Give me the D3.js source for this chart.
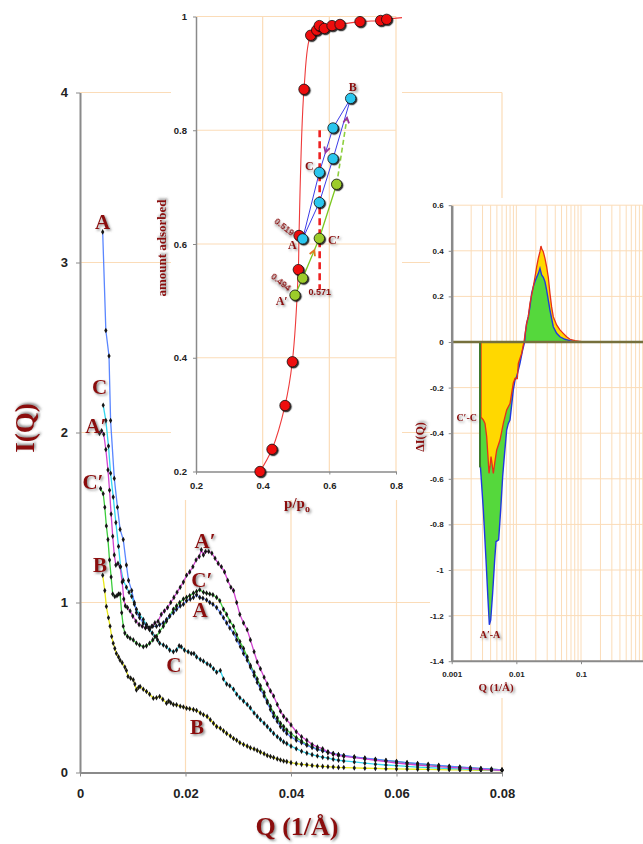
<!DOCTYPE html>
<html><head><meta charset="utf-8">
<script src="https://cdn.jsdelivr.net/npm/d3@7"></script>
<style>body{margin:0;background:#fff}svg{display:block}</style>
</head><body>
<svg id="c" width="643" height="844"></svg>
<script>
// ---------------- MAIN CHART DATA: [Q, I(Q)] ----------------
const curveA = [[0.0043,3.18],[0.0049,2.60],[0.0055,2.45],[0.0058,2.07],[0.0065,1.73],[0.0071,1.56],[0.0076,1.43],[0.0082,1.37],[0.0088,1.22],[0.0092,1.13],[0.0098,1.07],[0.0103,1.00],[0.0107,0.94],[0.0113,0.91],[0.0120,0.88],[0.0126,0.86],[0.0132,0.85],[0.0138,0.86],[0.0145,0.86],[0.0151,0.87],[0.0158,0.88],[0.0164,0.90],[0.0170,0.92],[0.0177,0.94],[0.0183,0.96],[0.0190,0.98],[0.0196,0.99],[0.0202,1.01],[0.0209,1.02],[0.0215,1.03],[0.0221,1.045],[0.0227,1.03],[0.0233,1.025],[0.0240,1.015],[0.0246,1.00],[0.0252,0.99],[0.0259,0.97],[0.0266,0.94],[0.0272,0.91],[0.0278,0.88],[0.0284,0.85],[0.0291,0.82],[0.0297,0.78],[0.0304,0.74],[0.0310,0.70],[0.0317,0.66],[0.0323,0.62],[0.0330,0.57],[0.0336,0.53],[0.0342,0.49],[0.0349,0.45],[0.0355,0.41],[0.0361,0.37],[0.0367,0.33],[0.0374,0.30],[0.0380,0.27],[0.0386,0.25],[0.0392,0.23],[0.0400,0.21],[0.0410,0.19],[0.0420,0.175],[0.0430,0.16],[0.0440,0.148],[0.0450,0.135],[0.0460,0.128],[0.0470,0.12],[0.0480,0.112],[0.0490,0.105],[0.050,0.10],[0.052,0.092],[0.054,0.085],[0.056,0.078],[0.058,0.071],[0.060,0.065],[0.062,0.058],[0.064,0.053],[0.066,0.048],[0.068,0.042],[0.070,0.037],[0.072,0.032],[0.074,0.028],[0.076,0.024],[0.078,0.020],[0.080,0.016]];
const curveC = [[0.0044,2.16],[0.0049,2.07],[0.0054,1.92],[0.0058,1.76],[0.0063,1.62],[0.0068,1.47],[0.0073,1.33],[0.0077,1.21],[0.0082,1.13],[0.0088,1.09],[0.0093,1.06],[0.0098,1.035],[0.0103,0.99],[0.0107,0.96],[0.0113,0.93],[0.0120,0.90],[0.0126,0.87],[0.0132,0.84],[0.0137,0.82],[0.0142,0.80],[0.0147,0.78],[0.0151,0.76],[0.0158,0.75],[0.0164,0.74],[0.0170,0.72],[0.0177,0.71],[0.0183,0.72],[0.0188,0.745],[0.0192,0.74],[0.0198,0.72],[0.0205,0.71],[0.0211,0.70],[0.0216,0.70],[0.0221,0.68],[0.0228,0.665],[0.0234,0.655],[0.0241,0.64],[0.0247,0.63],[0.0253,0.61],[0.0259,0.59],[0.0266,0.60],[0.0272,0.55],[0.0278,0.52],[0.0284,0.51],[0.0291,0.49],[0.0297,0.46],[0.0303,0.44],[0.0310,0.42],[0.0317,0.40],[0.0323,0.38],[0.0330,0.35],[0.0336,0.33],[0.0342,0.31],[0.0349,0.29],[0.0355,0.27],[0.0361,0.25],[0.0367,0.23],[0.0374,0.21],[0.0380,0.195],[0.0386,0.18],[0.0392,0.17],[0.0400,0.155],[0.0410,0.14],[0.0420,0.125],[0.0430,0.114],[0.0440,0.105],[0.0450,0.097],[0.0460,0.09],[0.0470,0.085],[0.0480,0.078],[0.0490,0.072],[0.050,0.068],[0.052,0.062],[0.054,0.055],[0.056,0.049],[0.058,0.044],[0.060,0.040],[0.062,0.036],[0.064,0.032],[0.066,0.029],[0.068,0.026],[0.070,0.023],[0.072,0.021],[0.074,0.019],[0.076,0.017],[0.078,0.015],[0.080,0.013]];
const curveAp = [[0.0037,1.995],[0.0041,2.01],[0.0045,1.99],[0.0049,1.90],[0.0053,1.78],[0.0056,1.66],[0.0059,1.52],[0.0062,1.39],[0.0065,1.28],[0.0068,1.22],[0.0072,1.23],[0.0076,1.21],[0.0080,1.12],[0.0083,1.02],[0.0086,0.98],[0.0090,0.97],[0.0095,0.95],[0.0100,0.92],[0.0106,0.89],[0.0112,0.87],[0.0118,0.86],[0.0124,0.85],[0.0130,0.85],[0.0136,0.86],[0.0142,0.88],[0.0148,0.89],[0.0154,0.93],[0.0160,0.95],[0.0166,0.97],[0.0172,1.00],[0.0178,1.03],[0.0184,1.06],[0.0190,1.09],[0.0196,1.12],[0.0202,1.16],[0.0208,1.18],[0.0214,1.21],[0.0220,1.25],[0.0226,1.27],[0.0230,1.31],[0.0234,1.28],[0.0238,1.30],[0.0244,1.30],[0.0250,1.29],[0.0256,1.26],[0.0262,1.23],[0.0268,1.21],[0.0274,1.18],[0.0280,1.13],[0.0286,1.09],[0.0291,1.07],[0.0297,1.00],[0.0303,0.93],[0.0310,0.88],[0.0317,0.84],[0.0323,0.78],[0.0330,0.71],[0.0336,0.65],[0.0342,0.61],[0.0349,0.56],[0.0355,0.52],[0.0361,0.48],[0.0367,0.45],[0.0374,0.40],[0.0380,0.36],[0.0386,0.33],[0.0392,0.31],[0.0400,0.28],[0.0410,0.24],[0.0420,0.21],[0.0430,0.19],[0.0440,0.165],[0.0450,0.15],[0.0460,0.14],[0.0470,0.12],[0.0480,0.108],[0.0490,0.10],[0.050,0.095],[0.052,0.088],[0.054,0.08],[0.056,0.072],[0.058,0.064],[0.060,0.056],[0.062,0.050],[0.064,0.044],[0.066,0.039],[0.068,0.034],[0.070,0.030],[0.072,0.027],[0.074,0.023],[0.076,0.019],[0.078,0.016],[0.080,0.013]];
const curveCp = [[0.0039,1.67],[0.0044,1.64],[0.0047,1.56],[0.0050,1.45],[0.0053,1.37],[0.0056,1.25],[0.0059,1.15],[0.0062,1.05],[0.0066,1.035],[0.0070,1.04],[0.0073,1.05],[0.0076,1.05],[0.0079,0.94],[0.0082,0.86],[0.0085,0.82],[0.0090,0.80],[0.0095,0.79],[0.0101,0.78],[0.0107,0.76],[0.0113,0.75],[0.0120,0.74],[0.0126,0.745],[0.0132,0.76],[0.0138,0.78],[0.0145,0.80],[0.0151,0.83],[0.0158,0.86],[0.0164,0.89],[0.0170,0.92],[0.0177,0.96],[0.0183,0.98],[0.0189,1.00],[0.0196,1.02],[0.0202,1.03],[0.0208,1.04],[0.0215,1.055],[0.0221,1.065],[0.0227,1.075],[0.0234,1.06],[0.0240,1.055],[0.0246,1.05],[0.0252,1.045],[0.0259,1.03],[0.0265,1.01],[0.0272,0.96],[0.0278,0.93],[0.0284,0.89],[0.0291,0.86],[0.0297,0.81],[0.0303,0.77],[0.0310,0.73],[0.0317,0.68],[0.0323,0.63],[0.0330,0.59],[0.0336,0.55],[0.0342,0.51],[0.0349,0.47],[0.0355,0.42],[0.0361,0.39],[0.0367,0.35],[0.0374,0.32],[0.0380,0.29],[0.0386,0.27],[0.0392,0.25],[0.0400,0.23],[0.0410,0.205],[0.0420,0.185],[0.0430,0.165],[0.0440,0.15],[0.0450,0.138],[0.0460,0.128],[0.0470,0.118],[0.0480,0.11],[0.0490,0.104],[0.050,0.098],[0.052,0.09],[0.054,0.083],[0.056,0.076],[0.058,0.07],[0.060,0.064],[0.062,0.057],[0.064,0.051],[0.066,0.046],[0.068,0.040],[0.070,0.035],[0.072,0.031],[0.074,0.027],[0.076,0.023],[0.078,0.019],[0.080,0.015]];
const curveB = [[0.0043,1.16],[0.0047,1.07],[0.0050,0.976],[0.0054,0.91],[0.0057,0.86],[0.0060,0.80],[0.0063,0.76],[0.0066,0.73],[0.0069,0.70],[0.0073,0.68],[0.0076,0.66],[0.0080,0.645],[0.0085,0.62],[0.0088,0.60],[0.0091,0.565],[0.0096,0.555],[0.0101,0.545],[0.0104,0.52],[0.0107,0.486],[0.0111,0.50],[0.0114,0.506],[0.0120,0.49],[0.0126,0.476],[0.0132,0.46],[0.0139,0.437],[0.0145,0.44],[0.0151,0.447],[0.0157,0.43],[0.0164,0.408],[0.0168,0.42],[0.0172,0.41],[0.0177,0.40],[0.0183,0.398],[0.0190,0.39],[0.0196,0.385],[0.0202,0.378],[0.0208,0.375],[0.0215,0.37],[0.0221,0.365],[0.0228,0.35],[0.0234,0.34],[0.0241,0.33],[0.0247,0.31],[0.0253,0.29],[0.0259,0.27],[0.0266,0.26],[0.0272,0.245],[0.0278,0.23],[0.0285,0.215],[0.0291,0.20],[0.0297,0.19],[0.0303,0.175],[0.0310,0.165],[0.0317,0.155],[0.0323,0.145],[0.0330,0.138],[0.0336,0.13],[0.0342,0.12],[0.0349,0.11],[0.0355,0.10],[0.0361,0.094],[0.0367,0.088],[0.0374,0.08],[0.0380,0.074],[0.0386,0.068],[0.0392,0.064],[0.0400,0.058],[0.0410,0.052],[0.0420,0.048],[0.0430,0.045],[0.0440,0.041],[0.0450,0.038],[0.0460,0.036],[0.0470,0.034],[0.0480,0.032],[0.0490,0.030],[0.050,0.029],[0.052,0.027],[0.054,0.025],[0.056,0.024],[0.058,0.022],[0.060,0.021],[0.062,0.020],[0.064,0.019],[0.066,0.018],[0.068,0.017],[0.070,0.016],[0.072,0.015],[0.074,0.014],[0.076,0.013],[0.078,0.012],[0.080,0.011]];
const qTicks = [0, 0.02, 0.04, 0.06, 0.08];
const iTicks = [0, 1, 2, 3, 4];
const mainLabels = [
  {t:"A", q:0.00427, v:3.24}, {t:"C", q:0.0037, v:2.27}, {t:"A\u2032", q:0.0030, v:2.04},
  {t:"C\u2032", q:0.00246, v:1.71}, {t:"B", q:0.0038, v:1.22},
  {t:"A\u2032", q:0.0237, v:1.36}, {t:"C\u2032", q:0.0231, v:1.13}, {t:"A", q:0.02275, v:0.956},
  {t:"C", q:0.0178, v:0.632}, {t:"B", q:0.0222, v:0.268}
];

// ---------------- INSET (ISOTHERM) DATA: [p/p0, amount] ----------------
const isoRed = [[0.392,0.2],[0.428,0.239],[0.467,0.316],[0.489,0.393],[0.507,0.555],[0.509,0.615],[0.524,0.872],[0.544,0.967],[0.562,0.976],[0.570,0.984],[0.585,0.979],[0.608,0.984],[0.632,0.986],[0.692,0.991],[0.754,0.993],[0.772,0.995]];
const isoRedEnd = [0.818, 0.998];
const isoCyanPath = [[0.520,0.609],[0.570,0.673],[0.611,0.750],[0.664,0.856],[0.611,0.804],[0.570,0.726],[0.520,0.609]];
const isoGreen = [[0.497,0.510],[0.520,0.540],[0.570,0.610],[0.622,0.705]];
const isoGreenDashEnd = [0.653, 0.822];
const isoCut = {p:0.571, a0:0.52, a1:0.80};
const pTicks = [0.2, 0.4, 0.6, 0.8];
const aTicks = [0.2, 0.4, 0.6, 0.8, 1];
const insetLabels = [
  {t:"C", p:0.540, a:0.737, s:12}, {t:"A", p:0.489, a:0.598, s:12}, {t:"A\u2032", p:0.457, a:0.500, s:12},
  {t:"C\u2032", p:0.614, a:0.607, s:12}, {t:"B", p:0.670, a:0.876, s:12},
  {t:"0.519", p:0.465, a:0.630, s:9, r:38}, {t:"0.494", p:0.455, a:0.533, s:9, r:38}, {t:"0.571", p:0.571, a:0.515, s:9}
];

// ---------------- RIGHT PANEL DATA: [Q, ΔI(Q)] ----------------
const dCpC = [[0.00284,0],[0.00284,-0.33],[0.003087,-0.342],[0.003274,-0.357],[0.003475,-0.415],[0.003643,-0.503],[0.003776,-0.576],[0.003913,-0.547],[0.004055,-0.503],[0.004202,-0.532],[0.004406,-0.576],[0.00462,-0.532],[0.00496,-0.474],[0.005585,-0.43],[0.006287,-0.357],[0.007082,-0.298],[0.007973,-0.27],[0.008977,-0.18],[0.009526,-0.16],[0.01035,-0.16],[0.01073,-0.094],[0.01208,-0.05],[0.01312,0],[0.01442,0.082],[0.01531,0.111],[0.01624,0.17],[0.01724,0.206],[0.01829,0.243],[0.01941,0.284],[0.0206,0.33],[0.02185,0.367],[0.02319,0.396],[0.02403,0.421],[0.02489,0.406],[0.0261,0.396],[0.0277,0.367],[0.0294,0.33],[0.0312,0.284],[0.0331,0.213],[0.0351,0.155],[0.03726,0.111],[0.04198,0.075],[0.04724,0.053],[0.0532,0.038],[0.05989,0.023],[0.06745,0.012],[0.0806,0.006],[0.1021,0.0015],[0.1221,0]];
const dApA = [[0.002742,0],[0.002742,-0.52],[0.003087,-0.737],[0.003395,-0.956],[0.003643,-1.13],[0.003822,-1.24],[0.004007,-1.22],[0.004302,-1.10],[0.00462,-0.956],[0.004844,-0.876],[0.005324,-0.868],[0.00572,-0.737],[0.00614,-0.59],[0.00644,-0.518],[0.007082,-0.386],[0.007513,-0.357],[0.007973,-0.342],[0.008977,-0.21],[0.009526,-0.167],[0.01011,-0.152],[0.01138,-0.094],[0.01252,-0.035],[0.01343,0],[0.01375,0.038],[0.01442,0.082],[0.01531,0.111],[0.01624,0.155],[0.01724,0.213],[0.01829,0.243],[0.01941,0.265],[0.0206,0.284],[0.02185,0.30],[0.02319,0.323],[0.0246,0.294],[0.0261,0.284],[0.0277,0.265],[0.0294,0.228],[0.0312,0.184],[0.0331,0.14],[0.0351,0.104],[0.03726,0.067],[0.04198,0.038],[0.04724,0.023],[0.05645,0.012],[0.06745,0.006],[0.0855,0]];
const dTicks = [-1.4,-1.2,-1,-0.8,-0.6,-0.4,-0.2,0,0.2,0.4,0.6];
const logTicks = [0.001, 0.01, 0.1];
const rightLabels = [{t:"C\u2032-C", q:0.001706, v:-0.333}, {t:"A\u2032-A", q:0.00391, v:-1.285}];

// ---------------- DRAWING ----------------
const svg = d3.select("#c");
const DR = "#8b0a0a", GRID = "#fbdcb8", AX = "#8a8a8a";
const SANS = "'Liberation Sans', Arial, sans-serif", SERIF = "'Liberation Serif','Times New Roman',serif";
const defs = svg.append("defs");
defs.append("filter").attr("id","tsh").attr("x","-30%").attr("y","-30%").attr("width","160%").attr("height","160%")
  .append("feDropShadow").attr("dx",1.5).attr("dy",1.5).attr("stdDeviation",1).attr("flood-color","#555").attr("flood-opacity",0.7);
defs.append("filter").attr("id","msh").attr("x","-50%").attr("y","-50%").attr("width","200%").attr("height","200%")
  .append("feDropShadow").attr("dx",1.2).attr("dy",1.2).attr("stdDeviation",0.6).attr("flood-color","#000").attr("flood-opacity",0.8);

function styleAxis(g, w, fs) {
  g.select(".domain").attr("stroke", AX).attr("stroke-width", w);
  g.selectAll(".tick line").attr("stroke", AX).attr("stroke-width", 1);
  g.selectAll(".tick text").attr("fill", "#222").style("font-family", SANS).style("font-weight", "bold").style("font-size", fs + "px");
}

// ===== main chart =====
const x = d3.scaleLinear().domain([0, 0.08]).range([80, 502]);
const y = d3.scaleLinear().domain([0, 4]).range([772.5, 92.5]);
const mg = svg.append("g");
mg.selectAll(".hg").data(iTicks.slice(1)).join("line").attr("x1", x(0)).attr("x2", x(0.08))
  .attr("y1", d => y(d)).attr("y2", d => y(d)).attr("stroke", GRID).attr("stroke-width", 1.2);
mg.selectAll(".vg").data(qTicks.slice(1)).join("line").attr("x1", d => x(d)).attr("x2", d => x(d))
  .attr("y1", y(0)).attr("y2", y(4)).attr("stroke", GRID).attr("stroke-width", 1.2);

const series = [
  {d: curveB, c: "#e8e81a"}, {d: curveC, c: "#33d6ee"}, {d: curveCp, c: "#3ccc3c"},
  {d: curveA, c: "#5a86ff"}, {d: curveAp, c: "#d044d0"}
];
const line = d3.line().x(d => x(d[0])).y(d => y(d[1]));
series.forEach(s => {
  mg.append("path").attr("d", line(s.d)).attr("fill", "none").attr("stroke", s.c).attr("stroke-width", 1.3);
});
const sym = d3.symbol().type(d3.symbolDiamond).size(9);
series.forEach(s => {
  mg.append("g").selectAll("path").data(s.d).join("path").attr("d", sym)
    .attr("transform", d => `translate(${x(d[0])},${y(d[1])})`).attr("fill", "#151515");
});

const xAxis = mg.append("g").attr("transform", `translate(0,${y(0)})`)
  .call(d3.axisBottom(x).tickValues(qTicks).tickFormat(d => String(d)).tickSize(4).tickSizeOuter(0).tickPadding(12));
styleAxis(xAxis, 2, 13);
const yAxis = mg.append("g").attr("transform", `translate(${x(0)},0)`)
  .call(d3.axisLeft(y).tickValues(iTicks).tickFormat(d => String(d)).tickSize(4).tickSizeOuter(0).tickPadding(8));
styleAxis(yAxis, 2, 13);

mg.selectAll(".ml").data(mainLabels).join("text").attr("x", d => x(d.q)).attr("y", d => y(d.v))
  .attr("text-anchor", "middle").attr("dominant-baseline", "central").text(d => d.t)
  .attr("fill", DR).attr("filter", "url(#tsh)").style("font-family", SERIF).style("font-weight", "bold").style("font-size", "21px");
mg.append("text").attr("x", 297).attr("y", 835).attr("text-anchor", "middle").text("Q (1/Å)")
  .attr("fill", DR).attr("filter", "url(#tsh)").style("font-family", SERIF).style("font-weight", "bold").style("font-size", "26px");
mg.append("text").attr("transform", "translate(34,428) rotate(-90)").attr("text-anchor", "middle").text("I(Q)")
  .attr("fill", DR).attr("filter", "url(#tsh)").style("font-family", SERIF).style("font-weight", "bold").style("font-size", "27px");

// ===== inset =====
const ix = d3.scaleLinear().domain([0.2, 0.8]).range([196, 396]);
const iy = d3.scaleLinear().domain([0.2, 1]).range([471.5, 16.5]);
const ig = svg.append("g");
ig.append("rect").attr("x", 171).attr("y", 0).attr("width", 231).attr("height", 500).attr("fill", "#fff");
ig.selectAll(".hg").data(aTicks.slice(1)).join("line").attr("x1", ix(0.2)).attr("x2", ix(0.8))
  .attr("y1", d => iy(d)).attr("y2", d => iy(d)).attr("stroke", GRID).attr("stroke-width", 1.2);
ig.selectAll(".vg").data(pTicks.slice(1)).join("line").attr("x1", d => ix(d)).attr("x2", d => ix(d))
  .attr("y1", iy(0.2)).attr("y2", iy(1)).attr("stroke", GRID).attr("stroke-width", 1.2);
const ixA = ig.append("g").attr("transform", `translate(0,${iy(0.2)})`)
  .call(d3.axisBottom(ix).tickValues(pTicks).tickFormat(d => String(d)).tickSize(3).tickSizeOuter(0).tickPadding(8));
styleAxis(ixA, 1.5, 9.5);
const iyA = ig.append("g").attr("transform", `translate(${ix(0.2)},0)`)
  .call(d3.axisLeft(iy).tickValues(aTicks).tickFormat(d => String(d)).tickSize(3).tickSizeOuter(0).tickPadding(6));
styleAxis(iyA, 1.5, 9.5);

const il = d3.line().x(d => ix(d[0])).y(d => iy(d[1]));
ig.append("path").attr("d", il.curve(d3.curveCatmullRom.alpha(0.5))(isoRed.concat([isoRedEnd])))
  .attr("fill", "none").attr("stroke", "#ee3a3a").attr("stroke-width", 1.1);
il.curve(d3.curveLinear);
ig.append("path").attr("d", il(isoCyanPath)).attr("fill", "none").attr("stroke", "#3c3ce8").attr("stroke-width", 1);
ig.append("path").attr("d", il(isoGreen)).attr("fill", "none").attr("stroke", "#7cc820").attr("stroke-width", 1.3);
ig.append("path").attr("d", il([isoGreen[isoGreen.length - 1], isoGreenDashEnd])).attr("fill", "none")
  .attr("stroke", "#8fd040").attr("stroke-width", 1.6).attr("stroke-dasharray", "5,3");
ig.append("line").attr("x1", ix(isoCut.p)).attr("x2", ix(isoCut.p)).attr("y1", iy(isoCut.a1)).attr("y2", iy(isoCut.a0))
  .attr("stroke", "#ee2020").attr("stroke-width", 2.6).attr("stroke-dasharray", "7,4");

function chevron(p0, p1, t, color) {
  const a = [ix(p0[0]), iy(p0[1])], b = [ix(p1[0]), iy(p1[1])];
  const px = a[0] + (b[0] - a[0]) * t, py = a[1] + (b[1] - a[1]) * t;
  const ang = Math.atan2(b[1] - a[1], b[0] - a[0]);
  const L = 6, W = 0.5;
  const p1x = px - L * Math.cos(ang - W), p1y = py - L * Math.sin(ang - W);
  const p2x = px - L * Math.cos(ang + W), p2y = py - L * Math.sin(ang + W);
  ig.append("path").attr("d", `M${p1x},${p1y}L${px},${py}L${p2x},${p2y}`).attr("fill", "none")
    .attr("stroke", color).attr("stroke-width", 1.8);
}
chevron(isoCyanPath[4], isoCyanPath[5], 0.55, "#993399");
chevron(isoGreen[3], isoGreenDashEnd, 1.0, "#993399");
chevron(isoGreen[1], isoGreen[2], 0.7, "#e07820");

function dots(data, fill) {
  ig.append("g").selectAll("circle").data(data).join("circle").attr("cx", d => ix(d[0])).attr("cy", d => iy(d[1]))
    .attr("r", 5.2).attr("fill", fill).attr("stroke", "#111").attr("stroke-width", 0.8).attr("filter", "url(#msh)");
}
dots(isoRed, "#ee1010");
dots(isoGreen, "#9ccc2a");
dots(isoCyanPath.slice(0, 6), "#2cc6ee");

ig.selectAll(".il").data(insetLabels).join("text")
  .attr("transform", d => `translate(${ix(d.p)},${iy(d.a)}) rotate(${d.r || 0})`)
  .attr("text-anchor", "middle").attr("dominant-baseline", "central").text(d => d.t)
  .attr("fill", DR).attr("filter", "url(#tsh)").style("font-family", d => d.s > 10 ? SERIF : SANS)
  .style("font-weight", "bold").style("font-size", d => d.s + "px");
ig.append("text").attr("transform", "translate(166,248) rotate(-90)").attr("text-anchor", "middle").text("amount adsorbed")
  .attr("fill", DR).attr("filter", "url(#tsh)").style("font-family", SERIF).style("font-weight", "bold").style("font-size", "13px");
const pl = ig.append("text").attr("x", 297).attr("y", 508).attr("text-anchor", "middle")
  .attr("fill", DR).attr("filter", "url(#tsh)").style("font-family", SERIF).style("font-weight", "bold").style("font-size", "15px");
pl.append("tspan").text("p/p");
pl.append("tspan").attr("dy", 4).style("font-size", "10px").text("o");

// ===== right panel =====
const rx = d3.scaleLog().domain([0.001, 1]).range([451.7, 645.65]);
const ry = d3.scaleLinear().domain([-1.4, 0.6]).range([661.2, 205.2]);
const rg = svg.append("g");
rg.append("rect").attr("x", 430).attr("y", 198).attr("width", 213).attr("height", 500).attr("fill", "#fff");
rg.selectAll(".vg").data(rx.ticks()).join("line").attr("x1", d => rx(d)).attr("x2", d => rx(d))
  .attr("y1", ry(-1.4)).attr("y2", ry(0.6)).attr("stroke", GRID).attr("stroke-width", 1);
rg.selectAll(".hg").data(dTicks).join("line").attr("x1", rx(0.001)).attr("x2", 643)
  .attr("y1", d => ry(d)).attr("y2", d => ry(d)).attr("stroke", GRID).attr("stroke-width", 1);

const ar = d3.area().x(d => rx(d[0])).y0(ry(0)).y1(d => ry(d[1]));
const lr = d3.line().x(d => rx(d[0])).y(d => ry(d[1]));
defs.append("clipPath").attr("id", "neg").append("rect").attr("x", 430).attr("y", ry(0)).attr("width", 213).attr("height", 400);
rg.append("path").attr("d", ar(dCpC)).attr("fill", "#ffd800");
rg.append("path").attr("d", ar(dApA)).attr("fill", "#55d83c");
rg.append("path").attr("d", ar(dCpC)).attr("fill", "#ffd800").attr("clip-path", "url(#neg)");
rg.append("path").attr("d", lr(dApA)).attr("fill", "none").attr("stroke", "#2038e0").attr("stroke-width", 1.4);
rg.append("path").attr("d", lr(dCpC)).attr("fill", "none").attr("stroke", "#e83018").attr("stroke-width", 1.3);
rg.append("line").attr("x1", rx(dApA[0][0])).attr("x2", rx(dApA[0][0])).attr("y1", ry(0)).attr("y2", ry(-0.55))
  .attr("stroke", "#3f7a2c").attr("stroke-width", 2);
rg.append("line").attr("x1", rx(0.001)).attr("x2", 643).attr("y1", ry(0)).attr("y2", ry(0))
  .attr("stroke", "#76703c").attr("stroke-width", 2.5);

const rxA = rg.append("g").attr("transform", `translate(0,${ry(-1.4)})`)
  .call(d3.axisBottom(rx).tickValues(logTicks).tickFormat(d => String(d)).tickSize(3).tickSizeOuter(0).tickPadding(7));
styleAxis(rxA, 2, 8);
rxA.select(".domain").attr("d", `M${rx(0.001)},0H643`);
const ryA = rg.append("g").attr("transform", `translate(${rx(0.001)},0)`)
  .call(d3.axisLeft(ry).tickValues(dTicks).tickFormat(d => String(d)).tickSize(3).tickSizeOuter(0).tickPadding(5));
styleAxis(ryA, 2.5, 8);

rg.selectAll(".rl").data(rightLabels).join("text").attr("x", d => rx(d.q)).attr("y", d => ry(d.v))
  .attr("text-anchor", "middle").attr("dominant-baseline", "central").text(d => d.t)
  .attr("fill", DR).attr("filter", "url(#tsh)").style("font-family", SERIF).style("font-weight", "bold").style("font-size", "10px");
rg.append("text").attr("x", 496).attr("y", 691).attr("text-anchor", "middle").text("Q (1/Å)")
  .attr("fill", DR).attr("filter", "url(#tsh)").style("font-family", SERIF).style("font-weight", "bold").style("font-size", "11px");
rg.append("text").attr("transform", "translate(424,437) rotate(-90)").attr("text-anchor", "middle").text("ΔI(Q)")
  .attr("fill", DR).attr("filter", "url(#tsh)").style("font-family", SERIF).style("font-weight", "bold").style("font-size", "12px");
</script>
</body></html>
